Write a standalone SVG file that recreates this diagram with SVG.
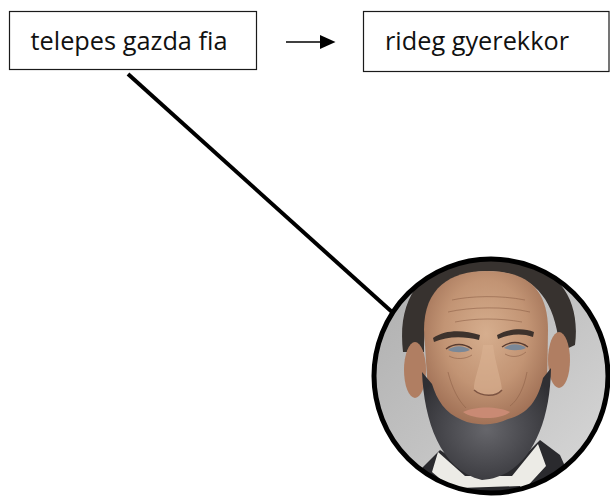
<svg xmlns="http://www.w3.org/2000/svg" width="610" height="500" viewBox="0 0 610 500">
<style>
.box{fill:#ffffff;stroke:#1a1a1a;stroke-width:1.2}
.lbl{font-family:"Open Sans","Liberation Sans",sans-serif;font-size:25px;fill:#111111}
.conn{stroke:#000000;fill:none}
.wr{stroke:#8f6249;stroke-width:1;fill:none;opacity:0.6}
</style>
<defs>
<clipPath id="clip"><circle cx="491" cy="376" r="117"/></clipPath>
<linearGradient id="bg" x1="0" y1="0" x2="1" y2="1">
<stop offset="0" stop-color="#adadad"/><stop offset="0.5" stop-color="#c2c2c2"/><stop offset="1" stop-color="#dadada"/>
</linearGradient>
<radialGradient id="skin" cx="0.5" cy="0.4" r="0.62">
<stop offset="0" stop-color="#d6ae8e"/><stop offset="0.55" stop-color="#c29474"/><stop offset="1" stop-color="#9c6c52"/>
</radialGradient>
<radialGradient id="beard" cx="0.5" cy="0.55" r="0.6">
<stop offset="0" stop-color="#66666b"/><stop offset="0.6" stop-color="#45454a"/><stop offset="1" stop-color="#2f2f33"/>
</radialGradient>
</defs>
<rect width="610" height="500" fill="#ffffff"/>
<g id="connectors">
<line class="conn" x1="286" y1="42" x2="322" y2="42" stroke-width="1.3"/>
<polygon points="320,35 335.5,42 320,49" fill="#000000"/>
<line class="conn" x1="128" y1="74" x2="392" y2="312" stroke-width="4"/>
</g>
<g id="node-telepes">
<rect class="box" x="9.5" y="11.5" width="247" height="58"/>
<text class="lbl" x="30.5" y="50" textLength="197" lengthAdjust="spacingAndGlyphs">telepes gazda fia</text>
</g>
<g id="node-rideg">
<rect class="box" x="363.5" y="11.5" width="245.5" height="60"/>
<text class="lbl" x="385" y="50" textLength="184" lengthAdjust="spacingAndGlyphs">rideg gyerekkor</text>
</g>
<g id="node-portrait">
<g clip-path="url(#clip)">
<rect x="370" y="255" width="242" height="245" fill="url(#bg)"/>
<!-- coat -->
<path d="M 405 500 L 420 470 L 440 450 L 470 470 L 510 470 L 540 440 L 560 455 L 580 500 Z" fill="#2a2a2e"/>
<!-- collar -->
<path d="M 438 452 L 465 476 L 512 476 L 538 444 L 546 466 L 522 492 L 458 494 L 432 472 Z" fill="#ecebe6"/>
<path d="M 460 488 L 520 486 L 528 500 L 455 500 Z" fill="#26262a"/>
<!-- hair -->
<path d="M 403 352 C 396 292 428 258 487 257 C 548 256 582 290 575 345 L 560 352 C 556 300 535 272 487 271 C 442 272 424 300 424 352 Z" fill="#37322f"/>
<!-- ears -->
<ellipse cx="415" cy="370" rx="11" ry="28" fill="#b07e62"/>
<ellipse cx="559" cy="360" rx="11" ry="28" fill="#b07e62"/>
<!-- face -->
<path d="M 424 330 C 424 288 450 271 487 271 C 526 271 548 288 548 330 L 547 392 C 545 422 520 428 487 428 C 455 428 431 422 428 392 Z" fill="url(#skin)"/>
<!-- forehead wrinkles -->
<path class="wr" d="M 452 300 C 470 296 500 295 525 300"/>
<path class="wr" d="M 448 312 C 470 307 505 306 530 312"/>
<path class="wr" d="M 455 322 C 475 318 500 318 522 322"/>
<path class="wr" d="M 448 372 C 452 388 458 400 466 408"/>
<path class="wr" d="M 527 372 C 524 388 518 400 510 406"/>
<!-- brows -->
<path d="M 433 338 C 446 329 464 330 480 335 L 479 340 C 464 336 447 336 434 342 Z" fill="#3d322c"/>
<path d="M 497 335 C 510 328 524 328 534 332 L 533 337 C 522 333 510 334 498 339 Z" fill="#3d322c"/>
<!-- eyes -->
<path d="M 448 350 C 454 345 464 345 470 350 C 464 353 454 353 448 350 Z" fill="#7a8898"/>
<path d="M 504 348 C 510 343 520 343 526 348 C 520 351 510 351 504 348 Z" fill="#7a8898"/>
<path d="M 446 349 C 454 343 464 343 472 349" stroke="#5a3c30" stroke-width="1.4" fill="none"/>
<path d="M 502 347 C 510 341 520 341 528 347" stroke="#5a3c30" stroke-width="1.4" fill="none"/>
<path d="M 449 356 C 456 360 466 359 472 355" class="wr"/>
<path d="M 505 354 C 512 358 520 357 526 352" class="wr"/>
<!-- nose -->
<path d="M 483 345 C 481 365 473 380 474 390 C 482 397 496 397 502 390 C 501 378 495 362 493 345 Z" fill="#dab392" opacity="0.6"/>
<path d="M 474 390 C 482 397 496 397 502 390" stroke="#7d5442" stroke-width="1.5" fill="none"/>
<!-- beard -->
<path d="M 422 372 C 424 420 440 470 482 480 C 526 477 550 430 551 368 L 543 378 C 538 400 528 414 508 419 C 495 426 475 426 462 420 C 445 413 437 400 432 384 Z" fill="url(#beard)"/>
<!-- lips -->
<path d="M 463 412 C 475 406 498 406 510 412 C 500 420 474 420 463 412 Z" fill="#c98a74"/>
</g>
<circle cx="491" cy="376" r="117" fill="none" stroke="#000000" stroke-width="5"/>
</g>
</svg>
